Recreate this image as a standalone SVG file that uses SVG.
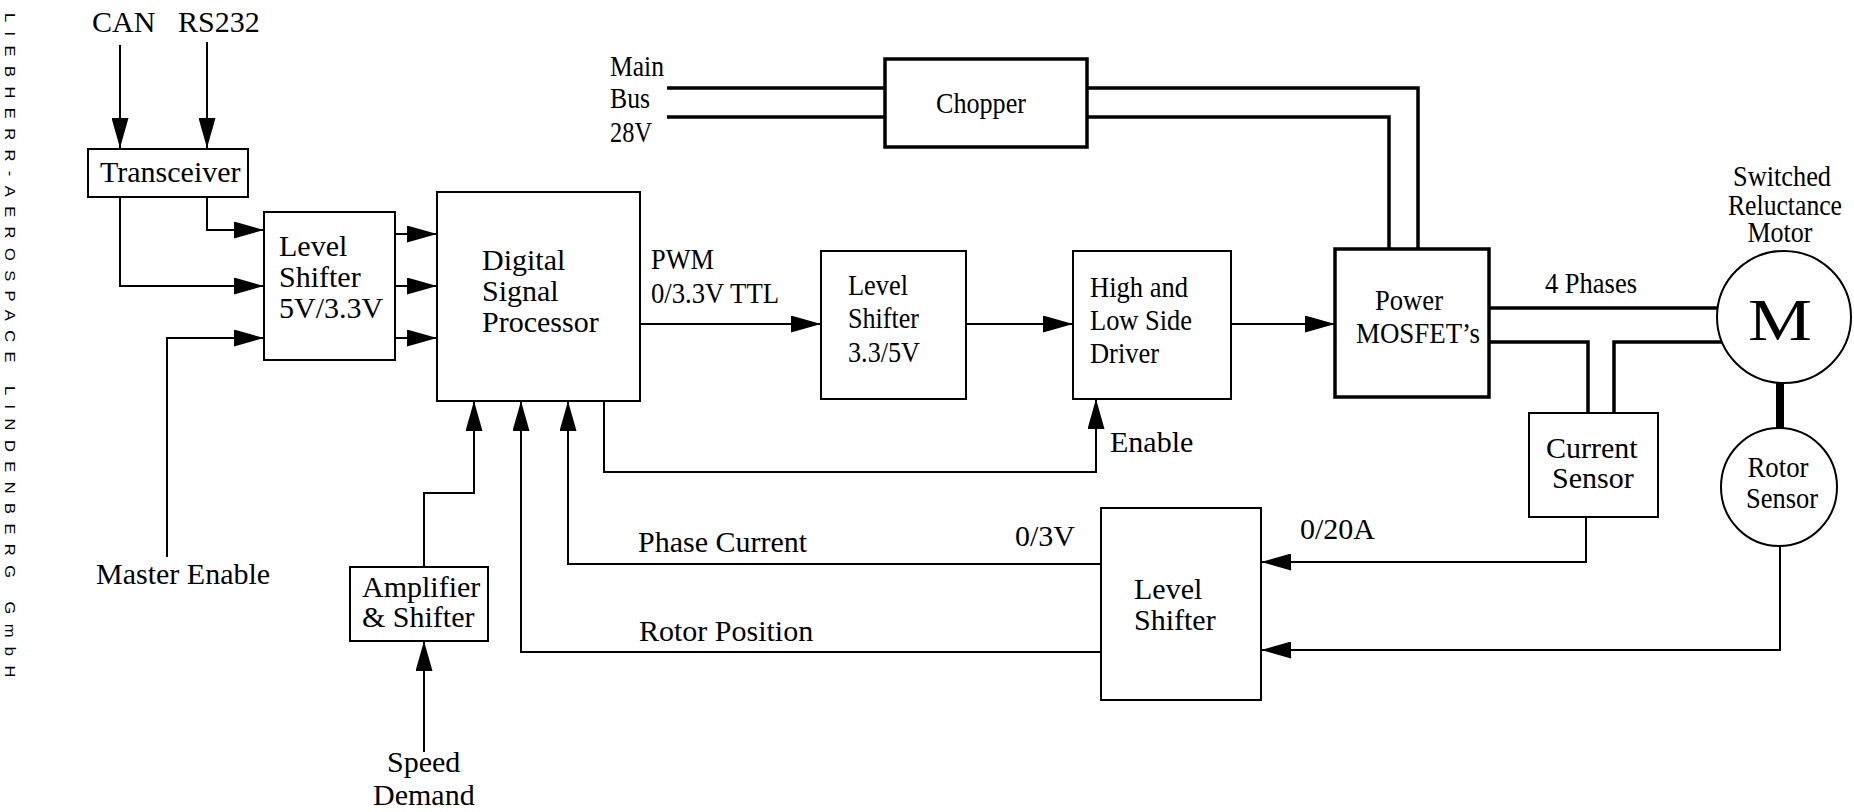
<svg xmlns="http://www.w3.org/2000/svg" width="1854" height="812" viewBox="0 0 1854 812" font-family="'Liberation Serif', 'DejaVu Serif', serif">
<style>
text{font-family:'Liberation Serif','DejaVu Serif',serif;font-size:30px;fill:#000}
.box{fill:#fff;stroke:#000;stroke-width:2}
.tbox{fill:#fff;stroke:#000;stroke-width:3.5}
.ln{fill:none;stroke:#000;stroke-width:2}
.pw{fill:none;stroke:#000;stroke-width:3.5}
.mid{text-anchor:middle}
text.side{font-family:'Liberation Sans','DejaVu Sans',sans-serif;font-size:14px}
</style>
<defs>
<marker id="ar" markerUnits="userSpaceOnUse" markerWidth="30" markerHeight="17" refX="30" refY="8.5" orient="auto">
<path d="M0,0 L30,8.5 L0,17 z" fill="#000"/>
</marker>
</defs>
<rect width="1854" height="812" fill="#fff"/>
<text class="side" transform="translate(5,13) rotate(90) scale(1.18,1)" textLength="563" lengthAdjust="spacing">LIEBHERR-AEROSPACE  LINDENBERG  GmbH</text>

<g id="connectors">
<path class="ln" d="M120,45 V148" marker-end="url(#ar)"/>
<path class="ln" d="M207,42 V148" marker-end="url(#ar)"/>
<path class="ln" d="M207,197 V230 H264" marker-end="url(#ar)"/>
<path class="ln" d="M120,197 V286 H264" marker-end="url(#ar)"/>
<path class="ln" d="M167,557 V338 H264" marker-end="url(#ar)"/>
<path class="ln" d="M395,234 H437" marker-end="url(#ar)"/>
<path class="ln" d="M395,286 H437" marker-end="url(#ar)"/>
<path class="ln" d="M395,338 H437" marker-end="url(#ar)"/>
<path class="ln" d="M640,324 H821" marker-end="url(#ar)"/>
<path class="ln" d="M966,324 H1073" marker-end="url(#ar)"/>
<path class="ln" d="M1231,324 H1335" marker-end="url(#ar)"/>
<path class="ln" d="M604,401 V472 H1096 V399" marker-end="url(#ar)"/>
<path class="ln" d="M424,752 V641" marker-end="url(#ar)"/>
<path class="ln" d="M424,567 V493 H474 V401" marker-end="url(#ar)"/>
<path class="ln" d="M1101,564 H568 V401" marker-end="url(#ar)"/>
<path class="ln" d="M1101,652 H521 V401" marker-end="url(#ar)"/>
<path class="ln" d="M1586,517 V562 H1261" marker-end="url(#ar)"/>
<path class="ln" d="M1780,547 V650 H1261" marker-end="url(#ar)"/>
<path class="pw" d="M667,88 H885"/>
<path class="pw" d="M667,117 H885"/>
<path class="pw" d="M1087,88 H1418 V248"/>
<path class="pw" d="M1087,117 H1389 V248"/>
<path class="pw" d="M1489,308 H1718"/>
<path class="pw" d="M1489,342 H1588 V413"/>
<path class="pw" d="M1722,342 H1614 V413"/>
<path fill="none" stroke="#000" stroke-width="8" d="M1780,383 V428"/>
</g>

<g id="can"><text x="92" y="32">CAN</text></g>
<g id="rs232"><text x="178" y="32">RS232</text></g>
<g id="mainbus">
<text x="610" y="76" textLength="54" lengthAdjust="spacingAndGlyphs">Main</text>
<text x="610" y="108" textLength="40" lengthAdjust="spacingAndGlyphs">Bus</text>
<text x="610" y="142" textLength="42" lengthAdjust="spacingAndGlyphs">28V</text>
</g>
<g id="transceiver">
<rect class="box" x="88" y="149" width="160" height="48"/>
<text x="100" y="182">Transceiver</text>
</g>
<g id="levelshifter1">
<rect class="box" x="264" y="212" width="131" height="148"/>
<text x="279" y="256">Level</text>
<text x="279" y="287">Shifter</text>
<text x="279" y="318">5V/3.3V</text>
</g>
<g id="dsp">
<rect class="box" x="437" y="192" width="203" height="209"/>
<text x="482" y="270">Digital</text>
<text x="482" y="301">Signal</text>
<text x="482" y="332">Processor</text>
</g>
<g id="pwm">
<text x="651" y="269" textLength="63" lengthAdjust="spacingAndGlyphs">PWM</text>
<text x="651" y="303" textLength="128" lengthAdjust="spacingAndGlyphs">0/3.3V TTL</text>
</g>
<g id="chopper">
<rect class="tbox" x="885" y="59" width="202" height="88"/>
<text x="936" y="113" textLength="90" lengthAdjust="spacingAndGlyphs">Chopper</text>
</g>
<g id="levelshifter2">
<rect class="box" x="821" y="251" width="145" height="148"/>
<text x="848" y="295" textLength="60" lengthAdjust="spacingAndGlyphs">Level</text>
<text x="848" y="328" textLength="71" lengthAdjust="spacingAndGlyphs">Shifter</text>
<text x="848" y="362" textLength="72" lengthAdjust="spacingAndGlyphs">3.3/5V</text>
</g>
<g id="driver">
<rect class="box" x="1073" y="251" width="158" height="148"/>
<text x="1090" y="297" textLength="98" lengthAdjust="spacingAndGlyphs">High and</text>
<text x="1090" y="330" textLength="102" lengthAdjust="spacingAndGlyphs">Low Side</text>
<text x="1090" y="363" textLength="69" lengthAdjust="spacingAndGlyphs">Driver</text>
</g>
<g id="enable"><text x="1110" y="452">Enable</text></g>
<g id="mosfet">
<rect class="tbox" x="1335" y="249" width="154" height="148"/>
<text x="1375" y="310" textLength="68" lengthAdjust="spacingAndGlyphs">Power</text>
<text x="1356" y="343" textLength="124" lengthAdjust="spacingAndGlyphs">MOSFET’s</text>
</g>
<g id="phases"><text x="1545" y="293" textLength="92" lengthAdjust="spacingAndGlyphs">4 Phases</text></g>
<g id="motor">
<text class="mid" x="1782" y="186" textLength="98" lengthAdjust="spacingAndGlyphs">Switched</text>
<text class="mid" x="1785" y="215" textLength="114" lengthAdjust="spacingAndGlyphs">Reluctance</text>
<text class="mid" x="1780" y="242" textLength="65" lengthAdjust="spacingAndGlyphs">Motor</text>
<ellipse cx="1784" cy="317" rx="67" ry="66" fill="none" stroke="#000" stroke-width="2"/>
<text class="mid" x="1780" y="340" style="font-size:60px" textLength="64" lengthAdjust="spacingAndGlyphs">M</text>
</g>
<g id="currentsensor">
<rect class="box" x="1529" y="413" width="129" height="104"/>
<text x="1546" y="458">Current</text>
<text x="1552" y="488">Sensor</text>
</g>
<g id="rotorsensor">
<ellipse cx="1779" cy="487" rx="58" ry="59" fill="#fff" stroke="#000" stroke-width="2"/>
<text class="mid" x="1778" y="477" textLength="61" lengthAdjust="spacingAndGlyphs">Rotor</text>
<text class="mid" x="1782" y="508" textLength="72" lengthAdjust="spacingAndGlyphs">Sensor</text>
</g>
<g id="label0_20A"><text x="1300" y="539">0/20A</text></g>
<g id="levelshifter3">
<rect class="box" x="1101" y="508" width="160" height="192"/>
<text x="1134" y="599">Level</text>
<text x="1134" y="630">Shifter</text>
</g>
<g id="label0_3V"><text x="1015" y="546">0/3V</text></g>
<g id="phasecurrent"><text x="638" y="552">Phase Current</text></g>
<g id="rotorposition"><text x="639" y="641">Rotor Position</text></g>
<g id="amplifier">
<rect class="box" x="350" y="567" width="138" height="74"/>
<text x="362" y="597">Amplifier</text>
<text x="362" y="627">&amp; Shifter</text>
</g>
<g id="speeddemand">
<text x="387" y="772">Speed</text>
<text x="373" y="805">Demand</text>
</g>
<g id="masterenable"><text x="96" y="584">Master Enable</text></g>
</svg>
